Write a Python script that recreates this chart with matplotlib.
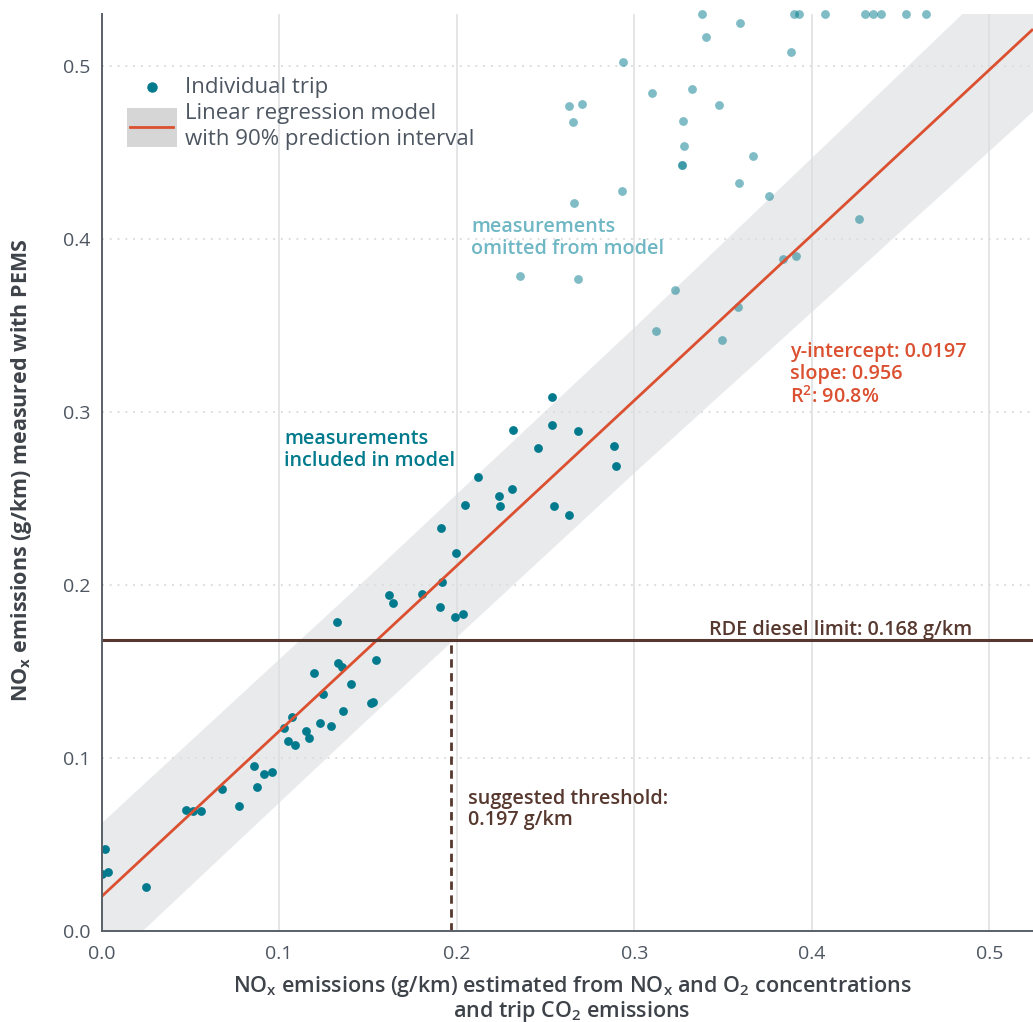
import matplotlib
matplotlib.use("Agg")
import matplotlib.pyplot as plt
from matplotlib.patches import Rectangle
from matplotlib.lines import Line2D
import numpy as np

plt.rcParams['font.family'] = ['Open Sans', 'DejaVu Sans']
plt.rcParams['mathtext.default'] = 'regular'

# ---- data -------------------------------------------------------------
# trips used to fit the regression (estimated NOx, PEMS NOx), g/km
incl_x = [0.0, 0.0021, 0.0035, 0.0252, 0.0476, 0.0517, 0.0558, 0.068, 0.0772,
          0.0859, 0.0874, 0.0915, 0.096, 0.1028, 0.1052, 0.1074, 0.109, 0.115,
          0.1168, 0.1198, 0.123, 0.1249, 0.1294, 0.133, 0.1354, 0.136, 0.1403,
          0.1516, 0.153, 0.1547, 0.1324, 0.1621, 0.1641, 0.1805, 0.1908, 0.1915,
          0.1913, 0.1994, 0.199, 0.2037, 0.2045, 0.2122, 0.2238, 0.2246, 0.2313,
          0.2319, 0.2456, 0.2535, 0.2538, 0.255, 0.2632, 0.2683, 0.2886, 0.2897]
incl_y = [0.0328, 0.0474, 0.0339, 0.0254, 0.0698, 0.0694, 0.069, 0.0819, 0.0719,
          0.095, 0.0831, 0.0906, 0.0919, 0.117, 0.1097, 0.1233, 0.1073, 0.1153,
          0.1112, 0.149, 0.1199, 0.1366, 0.1183, 0.1547, 0.1522, 0.127, 0.1426,
          0.1314, 0.1322, 0.1566, 0.1783, 0.1939, 0.1892, 0.1944, 0.1871, 0.2016,
          0.2326, 0.2183, 0.1813, 0.1829, 0.2462, 0.2623, 0.2514, 0.2457, 0.2555,
          0.2896, 0.2788, 0.3087, 0.2925, 0.2457, 0.2403, 0.289, 0.2803, 0.2684]

# trips left out of the fit (values above 0.53 sit on the top edge)
omit_x = [0.3381, 0.3402, 0.2935, 0.3098, 0.3325, 0.263, 0.2704, 0.2657, 0.3274,
          0.3478, 0.3282, 0.3269, 0.3269, 0.2929, 0.2659, 0.2358, 0.2683, 0.3229,
          0.3597, 0.3881, 0.3897, 0.3927, 0.4074, 0.4299, 0.4342, 0.4389, 0.4528,
          0.4641, 0.367, 0.3591, 0.376, 0.4263, 0.3836, 0.3912, 0.3122, 0.3586,
          0.3494]
omit_y = [0.53, 0.5168, 0.502, 0.4842, 0.4864, 0.4767, 0.4777, 0.4673, 0.4679,
          0.4773, 0.4538, 0.4426, 0.4426, 0.4277, 0.4208, 0.3784, 0.3767, 0.3702,
          0.5249, 0.5077, 0.53, 0.53, 0.53, 0.53, 0.53, 0.53, 0.53,
          0.53, 0.4476, 0.4322, 0.4245, 0.4114, 0.3884, 0.3902, 0.3466, 0.3607,
          0.3413]

intercept = 0.0197
slope = 0.956
r_squared = 90.8
rde_limit = 0.168
threshold = 0.197

# half-width of the 90% prediction interval at a few x positions
band_x = [0.0, 0.15, 0.30, 0.5245]
band_half = [0.0423, 0.041, 0.042, 0.0477]

x_ticks = [0.0, 0.1, 0.2, 0.3, 0.4, 0.5]
y_ticks = [0.0, 0.1, 0.2, 0.3, 0.4, 0.5]

# ---- style ------------------------------------------------------------
TEAL = '#007a8c'
TEAL_LIGHT = '#6fb7c4'
ORANGE = '#db5030'
BROWN = '#57382e'
GRAY_TXT = '#4d5661'
AXIS_TXT = '#3e434a'
GRID = '#dddee0'
BAND = '#e9eaec'
ANN = 14.2
LS = 1.12

W, H = 1033, 1022
fig = plt.figure(figsize=(W / 100, H / 100), dpi=100)


def fx(px):
    return px / W


def fy(py):
    return 1 - py / H


ax = fig.add_axes([fx(101.5), fy(930.7), (1033 - 101.5) / W, (930.7 - 13.8) / H])
ax.set_xlim(0, 0.5245)
ax.set_ylim(0, 0.53)

for s in ['top', 'right']:
    ax.spines[s].set_visible(False)
for s in ['left', 'bottom']:
    ax.spines[s].set_color('#5a6068')
    ax.spines[s].set_linewidth(1.4)
    ax.spines[s].set_zorder(6)

ax.set_xticks(x_ticks)
ax.set_yticks(y_ticks)
ax.set_xticklabels([f"{v:.1f}" for v in x_ticks])
ax.set_yticklabels([f"{v:.1f}" for v in y_ticks])
ax.tick_params(length=0, labelsize=14, colors=GRAY_TXT)
ax.tick_params(axis='x', pad=10)
ax.tick_params(axis='y', pad=8)

# grid: solid verticals, dotted horizontals
for v in x_ticks[1:]:
    ax.axvline(v, color=GRID, lw=1.1, zorder=1.5)
for v in y_ticks[1:]:
    ax.axhline(v, color=GRID, lw=1.4, ls=(0, (1, 3)), zorder=1.5)

# prediction band
bx = np.array(band_x)
bh = np.array(band_half)
ax.fill_between(bx, intercept + slope * bx - bh, intercept + slope * bx + bh,
                color=BAND, lw=0, zorder=1)

# trips
ax.scatter(omit_x, omit_y, s=40, color=TEAL, alpha=0.5, lw=0, zorder=3, clip_on=False)
ax.scatter(incl_x, incl_y, s=40, color=TEAL, lw=0, zorder=3)

# regression line
lx = np.array([0.0, 0.5245])
ax.plot(lx, intercept + slope * lx, color=ORANGE, lw=2, zorder=4, solid_capstyle='butt')

# regulatory limit and suggested threshold
ax.axhline(rde_limit, color=BROWN, lw=2.2, zorder=5)
ax.plot([threshold, threshold], [0, rde_limit], color=BROWN, lw=2,
        ls=(0, (3, 2)), zorder=5)

# annotations
ax.text(0.4905, rde_limit, "RDE diesel limit: 0.168 g/km", color=BROWN,
        fontsize=ANN, fontweight='semibold', ha='right', va='bottom')
ax.text(0.2063, 0.0821, "suggested threshold:\n0.197 g/km", color=BROWN,
        fontsize=ANN, fontweight='semibold', ha='left', va='top', linespacing=LS)
ax.text(0.103, 0.2901, "measurements\nincluded in model", color=TEAL,
        fontsize=ANN, fontweight='semibold', ha='left', va='top', linespacing=LS)
ax.text(0.2083, 0.4125, "measurements\nomitted from model", color=TEAL_LIGHT,
        fontsize=ANN, fontweight='semibold', ha='left', va='top', linespacing=LS)
ax.text(0.3875, 0.3403, "y-intercept: 0.0197\nslope: 0.956\nR$^2$: 90.8%",
        color=ORANGE, fontsize=ANN, fontweight='semibold', ha='left', va='top',
        linespacing=LS)

# axis titles
ax.set_ylabel("NO$_x$ emissions (g/km) measured with PEMS", fontsize=15.5,
              fontweight='bold', color=AXIS_TXT)
ax.yaxis.set_label_coords(-0.0726, 0.502)
fig.text(fx(572), fy(986), "NO$_x$ emissions (g/km) estimated from NO$_x$ and O$_2$ concentrations",
         fontsize=15.5, fontweight='semibold', color=AXIS_TXT, ha='center', va='center')
fig.text(fx(572), fy(1011), "and trip CO$_2$ emissions",
         fontsize=15.5, fontweight='semibold', color=AXIS_TXT, ha='center', va='center')

# legend
fig.add_artist(Line2D([fx(152)], [fy(87)], marker='o', markersize=6.5, color=TEAL,
                      lw=0, transform=fig.transFigure))
fig.add_artist(Rectangle((fx(126.7), fy(146.7)), fx(177) - fx(126.7), fy(107.7) - fy(146.7),
                         transform=fig.transFigure, color='#d6d6d6', lw=0))
fig.add_artist(Line2D([fx(130.3), fx(173)], [fy(127), fy(127)], color=ORANGE, lw=2,
                      transform=fig.transFigure))
fig.text(fx(185), fy(88), "Individual trip", fontsize=16, color=GRAY_TXT,
         ha='left', va='center')
fig.text(fx(185), fy(114), "Linear regression model", fontsize=16, color=GRAY_TXT,
         ha='left', va='center')
fig.text(fx(185), fy(139), "with 90% prediction interval", fontsize=16, color=GRAY_TXT,
         ha='left', va='center')

fig.savefig("out.png", dpi=100)
